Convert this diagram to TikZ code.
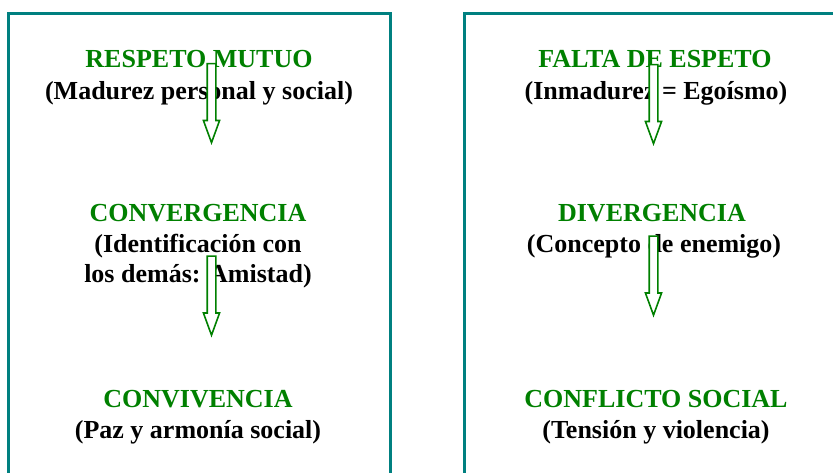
\documentclass[tikz,border=0pt]{standalone}
\usepackage{fontspec}
\setmainfont{Liberation Serif}
\usepackage{tikz}
\usetikzlibrary{positioning, shapes.arrows}
\definecolor{marco}{RGB}{0,128,128}
\definecolor{verde}{RGB}{0,128,0}

\begin{document}
\begin{tikzpicture}[x=1pt, y=-1pt,
    titulo/.style={anchor=base, text=verde, font=\fontsize{26}{30}\selectfont\bfseries},
    sub/.style={anchor=base, font=\fontsize{26}{30}\selectfont\bfseries},
    flecha/.style={single arrow, draw=verde, fill=white, line width=1.6pt, rotate=-90,
        anchor=tip, inner xsep=0pt, inner ysep=3.5pt, single arrow head extend=3.75pt,
        single arrow tip angle=40, minimum height=79pt}]

    \useasboundingbox (0,0) rectangle (833,473);
    \clip (0,0) rectangle (833,473);

    % the two frames
    \draw[marco, line width=3pt] (8.5,490) -- (8.5,13.5) -- (390.5,13.5) -- (390.5,490);
    \draw[marco, line width=3pt] (464.5,490) -- (464.5,13.5) -- (850,13.5);

    % left column
    \node[titulo] (respeto) at (199,68) {RESPETO MUTUO};
    \node[sub] (madurez) at (199,100) {(Madurez personal y social)};
    \node[titulo] (convergencia) at (198,222) {CONVERGENCIA};
    \node[sub] (identif) at (198,253) {(Identificación con};
    \node[sub] (amistad) at (198,283) {los demás: Amistad)};
    \node[titulo] (convivencia) at (198,407) {CONVIVENCIA};
    \node[sub] (paz) at (198,438) {(Paz y armonía social)};

    % right column
    \node[titulo] (falta) at (655,68) {FALTA DE ESPETO};
    \node[sub] (inmadurez) at (656,100) {(Inmadurez = Egoísmo)};
    \node[titulo] (divergencia) at (652,222) {DIVERGENCIA};
    \node[sub] (enemigo) at (654,253) {(Concepto de enemigo)};
    \node[titulo] (conflicto) at (656,407) {CONFLICTO SOCIAL};
    \node[sub] (tension) at (656,438) {(Tensión y violencia)};

    % hollow arrows, placed by their tips
    \node[flecha] (f1) at (211.5,145) {};
    \node[flecha] (f2) at (211.5,337.5) {};
    \node[flecha] (f3) at (653.5,146) {};
    \node[flecha] (f4) at (653.5,317.5) {};
\end{tikzpicture}
\end{document}
